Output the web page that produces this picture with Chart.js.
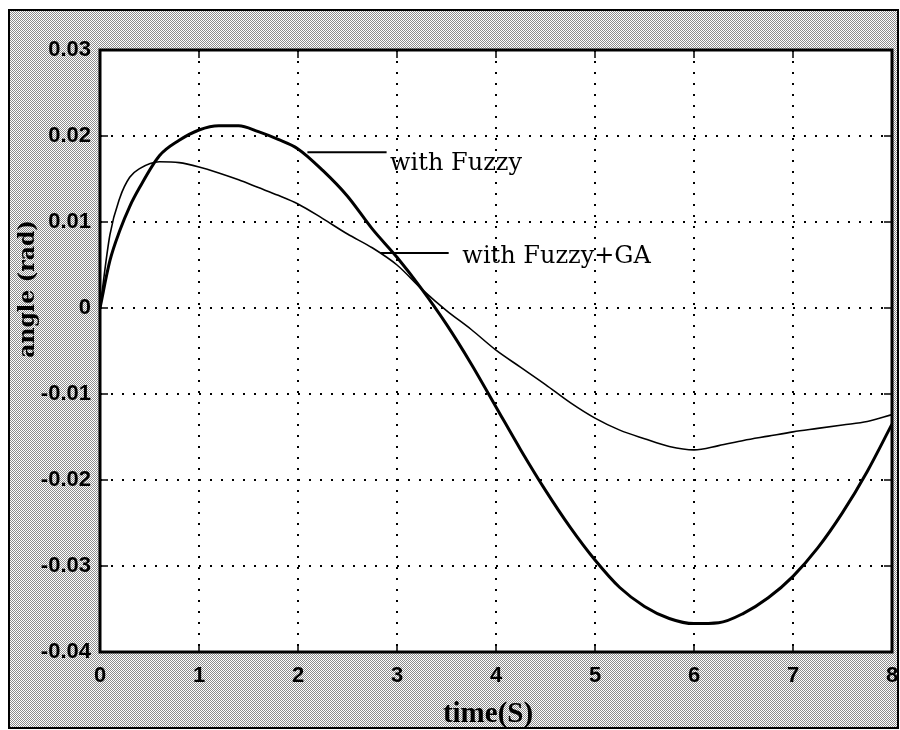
<!DOCTYPE html>
<html>
<head>
<meta charset="utf-8">
<script src="https://cdn.jsdelivr.net/npm/chart.js"></script>
<style>
  html, body { margin: 0; padding: 0; background: #fff; }
  #wrap { width: 900px; height: 730px; position: relative; }
</style>
</head>
<body>
<div id="wrap"><canvas id="chart"></canvas></div>
<script>
    // values
    const time = [0, 0.1, 0.2, 0.3, 0.4, 0.6, 0.8, 1.0, 1.2, 1.4, 1.6, 1.8, 2.0, 2.25, 2.5, 2.75,
                  3.0, 3.25, 3.5, 3.75, 4.0, 4.25, 4.5, 4.75, 5.0, 5.25, 5.5, 5.75, 6.0, 6.25,
                  6.5, 6.75, 7.0, 7.25, 7.5, 7.75, 8.0];
    const withFuzzy = [0, 0.0055, 0.009, 0.0118, 0.014, 0.0177, 0.0195, 0.0207, 0.0212, 0.0212,
                       0.0205, 0.0196, 0.0185, 0.016, 0.013, 0.0092, 0.0059, 0.0022, -0.0019,
                       -0.0065, -0.0115, -0.0165, -0.0212, -0.0255, -0.0293, -0.0325, -0.0347,
                       -0.0361, -0.0367, -0.0366, -0.0355, -0.0337, -0.0312, -0.0279, -0.0238,
                       -0.019, -0.0135];
    const withFuzzyGA = [0, 0.0085, 0.0128, 0.0152, 0.0162, 0.017, 0.0169, 0.0164, 0.0157, 0.0149,
                         0.014, 0.0131, 0.0121, 0.0104, 0.0086, 0.007, 0.005, 0.0022, -0.0003,
                         -0.0025, -0.0049, -0.0069, -0.0089, -0.011, -0.0128, -0.0142, -0.0152,
                         -0.0161, -0.0165, -0.016, -0.0154, -0.0149, -0.0144, -0.014, -0.0136,
                         -0.0132, -0.0124];
    const xTicks = [0, 1, 2, 3, 4, 5, 6, 7, 8];
    const yTicks = [-0.04, -0.03, -0.02, -0.01, 0, 0.01, 0.02, 0.03];

    // callouts: leader line (x0, x1, y) and text anchor (x, y) in data units
    const callouts = [
        { text: 'with Fuzzy', x0: 2.095, x1: 2.895, y: 0.0181, tx: 2.93, ty: 0.0161 },
        { text: 'with Fuzzy+GA', x0: 2.834, x1: 3.522, y: 0.0064, tx: 3.66, ty: 0.0052 }
    ];

    function toPoints(xs, ys) {
        return xs.map((x, i) => ({ x: x, y: ys[i] }));
    }

    function makeNoise() {
        const c = document.createElement('canvas');
        c.width = 4; c.height = 4;
        const g = c.getContext('2d');
        g.fillStyle = '#ffffff';
        g.fillRect(0, 0, 4, 4);
        g.fillStyle = '#8c8c8c';
        for (let yy = 0; yy < 4; yy++) {
            for (let xx = 0; xx < 4; xx++) {
                if ((xx + yy) % 2 === 0) g.fillRect(xx, yy, 1, 1);
            }
        }
        return c;
    }

    const framePlugin = {
        id: 'frame',
        beforeDraw(chart) {
            const { ctx, chartArea: a, width, height } = chart;
            ctx.save();
            ctx.fillStyle = '#ffffff';
            ctx.fillRect(0, 0, width, height);
            ctx.fillStyle = ctx.createPattern(makeNoise(), 'repeat');
            ctx.fillRect(9, 10, width - 10, height - 12);
            ctx.strokeStyle = '#000';
            ctx.lineWidth = 2;
            ctx.strokeRect(9, 10, width - 11, height - 12);
            ctx.fillStyle = '#ffffff';
            ctx.fillRect(a.left, a.top, a.right - a.left, a.bottom - a.top);
            ctx.restore();
        },
        afterDatasetsDraw(chart) {
            const { ctx, chartArea: a, scales } = chart;
            const xs = scales.x, ys = scales.y;
            ctx.save();
            ctx.strokeStyle = '#000';
            ctx.lineWidth = 1.5;
            xTicks.forEach(t => {
                const px = xs.getPixelForValue(t);
                ctx.beginPath();
                ctx.moveTo(px, a.bottom); ctx.lineTo(px, a.bottom - 8);
                ctx.moveTo(px, a.top); ctx.lineTo(px, a.top + 8);
                ctx.stroke();
            });
            yTicks.forEach(t => {
                const py = ys.getPixelForValue(t);
                ctx.beginPath();
                ctx.moveTo(a.left, py); ctx.lineTo(a.left + 8, py);
                ctx.moveTo(a.right, py); ctx.lineTo(a.right - 8, py);
                ctx.stroke();
            });
            ctx.lineWidth = 3;
            ctx.strokeRect(a.left, a.top, a.right - a.left, a.bottom - a.top);

            // callouts
            ctx.fillStyle = '#000';
            ctx.font = '24px "DejaVu Serif"';
            ctx.textBaseline = 'alphabetic';
            ctx.textAlign = 'left';
            callouts.forEach(c => {
                ctx.lineWidth = 2;
                ctx.beginPath();
                ctx.moveTo(xs.getPixelForValue(c.x0), ys.getPixelForValue(c.y));
                ctx.lineTo(xs.getPixelForValue(c.x1), ys.getPixelForValue(c.y));
                ctx.stroke();
                ctx.fillText(c.text, xs.getPixelForValue(c.tx), ys.getPixelForValue(c.ty));
            });

            // axis titles
            ctx.font = 'bold 29px "Liberation Serif"';
            ctx.textAlign = 'center';
            ctx.fillText('time(S)', (a.left + a.right) / 2 - 8, 722);
            ctx.translate(34, 289);
            ctx.rotate(-Math.PI / 2);
            ctx.font = 'bold 22px "DejaVu Serif"';
            ctx.fillText('angle (rad)', 0, 0);
            ctx.restore();
        }
    };

    const ctx = document.getElementById('chart');
    new Chart(ctx, {
        type: 'line',
        data: {
            datasets: [{
                label: 'with Fuzzy',
                data: toPoints(time, withFuzzy),
                borderColor: '#000',
                borderWidth: 3,
                pointRadius: 0,
                cubicInterpolationMode: 'monotone',
                fill: false
            }, {
                label: 'with Fuzzy+GA',
                data: toPoints(time, withFuzzyGA),
                borderColor: '#000',
                borderWidth: 1.6,
                pointRadius: 0,
                cubicInterpolationMode: 'monotone',
                fill: false
            }]
        },
        options: {
            responsive: true,
            maintainAspectRatio: false,
            animation: false,
            layout: { padding: { left: 0, top: 50, right: 8, bottom: 0 } },
            plugins: {
                legend: { display: false },
                tooltip: { enabled: false }
            },
            scales: {
                x: {
                    type: 'linear',
                    min: 0,
                    max: 8,
                    afterFit: s => { s.height = 78; s.paddingRight = 0; s.paddingLeft = 0; },
                    afterBuildTicks: s => { s.ticks = xTicks.map(v => ({ value: v })); },
                    grid: {
                        color: '#000',
                        lineWidth: 2,
                        drawTicks: false
                    },
                    border: { display: false, dash: [2, 9] },
                    ticks: {
                        padding: 11,
                        color: '#000',
                        font: { family: 'Liberation Sans', size: 22, weight: 'bold' },
                        maxRotation: 0
                    }
                },
                y: {
                    min: -0.04,
                    max: 0.03,
                    afterFit: s => { s.width = 100; s.paddingTop = 0; s.paddingBottom = 0; },
                    afterBuildTicks: s => { s.ticks = yTicks.map(v => ({ value: v })); },
                    grid: {
                        color: '#000',
                        lineWidth: 2,
                        drawTicks: false
                    },
                    border: { display: false, dash: [2, 9] },
                    ticks: {
                        padding: 9,
                        color: '#000',
                        font: { family: 'Liberation Sans', size: 22, weight: 'bold' },
                        callback: v => String(parseFloat(v.toFixed(2)))
                    }
                }
            }
        },
        plugins: [framePlugin]
    });
</script>
</body>
</html>
